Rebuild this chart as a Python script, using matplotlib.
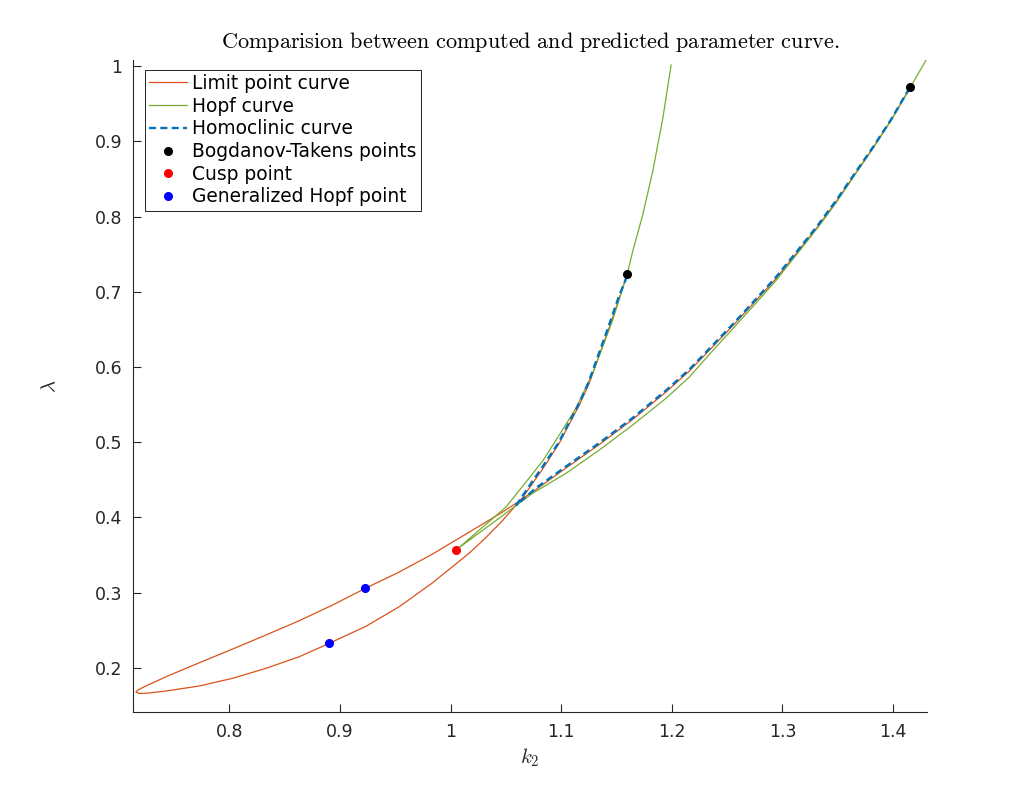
import numpy as np
import matplotlib
matplotlib.use("Agg")
import matplotlib.pyplot as plt

plt.rcParams['mathtext.fontset'] = 'cm'
plt.rcParams['font.family'] = ['DejaVu Sans']

# limit point curve: BT1 -> steep branch -> loop -> shallow branch -> BT2
lp_k2 = [1.1596, 1.1526, 1.1436, 1.1345, 1.1255, 1.1165, 1.1074, 1.0984, 1.0833,
         1.0652, 1.0471, 1.0306, 1.0170, 0.9835, 0.9537, 0.9236, 0.8904, 0.8633,
         0.8332, 0.8030, 0.7729, 0.7428, 0.7277, 0.7186, 0.7155, 0.7177, 0.7231,
         0.7428, 0.7729, 0.8030, 0.8332, 0.8633, 0.8934, 0.9230, 0.9537, 0.9838,
         1.0170, 1.0471, 1.0622, 1.0773, 1.1044, 1.1345, 1.1646, 1.1948, 1.2159,
         1.2355, 1.2566, 1.2762, 1.2943, 1.3138, 1.3319, 1.3486, 1.3651, 1.3817,
         1.3983, 1.4157]
lp_lam = [0.7232, 0.6917, 0.6532, 0.6159, 0.5787, 0.5495, 0.5243, 0.4990, 0.4645,
          0.4266, 0.3960, 0.3714, 0.3528, 0.3130, 0.2815, 0.2555, 0.2328, 0.2150,
          0.1996, 0.1863, 0.1761, 0.1694, 0.1668, 0.1661, 0.1681, 0.1710, 0.1750,
          0.1884, 0.2070, 0.2252, 0.2439, 0.2629, 0.2837, 0.3059, 0.3276, 0.3515,
          0.3807, 0.4073, 0.4219, 0.4372, 0.4658, 0.4970, 0.5302, 0.5668, 0.5947,
          0.6246, 0.6571, 0.6884, 0.7176, 0.7532, 0.7864, 0.8197, 0.8551, 0.8906,
          0.9282, 0.9717]

# hopf curve: top -> BT1 -> cusp -> BT2 -> top right
hopf_k2 = [1.1994, 1.1918, 1.1827, 1.1737, 1.1646, 1.1596, 1.1526, 1.1466, 1.1375,
           1.1285, 1.1135, 1.0954, 1.0833, 1.0502, 1.0061, 1.0441, 1.0742, 1.1044,
           1.1345, 1.1646, 1.1948, 1.2159, 1.2355, 1.2566, 1.2762, 1.2943, 1.3138,
           1.3319, 1.3486, 1.3651, 1.3817, 1.3983, 1.4157, 1.4299]
hopf_lam = [1.0013, 0.9296, 0.8595, 0.8020, 0.7532, 0.7232, 0.6904, 0.6625, 0.6266,
            0.5916, 0.5455, 0.5030, 0.4751, 0.4140, 0.3581, 0.3993, 0.4322, 0.4587,
            0.4897, 0.5229, 0.5584, 0.5867, 0.6193, 0.6532, 0.6850, 0.7150, 0.7512,
            0.7851, 0.8183, 0.8545, 0.8900, 0.9276, 0.9717, 1.0080]

# homoclinic curve: BT1 -> near crossing -> BT2
hom_k2 = [1.1596, 1.1517, 1.1427, 1.1336, 1.1246, 1.1156, 1.1065, 1.0975, 1.0830,
          1.0712, 1.0595, 1.0773, 1.1044, 1.1345, 1.1646, 1.1948, 1.2159, 1.2355,
          1.2566, 1.2762, 1.2943, 1.3138, 1.3319, 1.3486, 1.3651, 1.3817, 1.3983,
          1.4139]
hom_lam = [0.7209, 0.6917, 0.6532, 0.6159, 0.5790, 0.5500, 0.5243, 0.4990, 0.4671,
           0.4419, 0.4166, 0.4392, 0.4678, 0.4990, 0.5322, 0.5688, 0.5967, 0.6266,
           0.6591, 0.6904, 0.7196, 0.7548, 0.7880, 0.8213, 0.8565, 0.8917, 0.9289,
           0.9681]

bt_k2 = [1.1596, 1.4157]
bt_lam = [0.7232, 0.9717]
cusp_k2 = [1.0052]
cusp_lam = [0.3568]
gh_k2 = [0.9230, 0.8904]
gh_lam = [0.3059, 0.2328]

c_lp = '#D95319'
c_hopf = '#77AC30'
c_hom = '#0072BD'
gray = '#262626'

fig = plt.figure(figsize=(10.24, 8), dpi=100)
ax = fig.add_axes([0.13, 0.11, 0.775, 0.815])

ax.plot(lp_k2, lp_lam, '-', color=c_lp, lw=0.9, label='Limit point curve')
ax.plot(hopf_k2, hopf_lam, '-', color=c_hopf, lw=0.9, label='Hopf curve')
ax.plot(hom_k2, hom_lam, '--', color=c_hom, lw=1.7, dashes=(3.0, 1.8),
        label='Homoclinic curve')
ax.plot(bt_k2, bt_lam, 'o', color='k', ms=5.5, label='Bogdanov-Takens points')
ax.plot(cusp_k2, cusp_lam, 'o', color='r', ms=5.5, label='Cusp point')
ax.plot(gh_k2, gh_lam, 'o', color='b', ms=5.5, label='Generalized Hopf point')

ax.set_xlim(0.713, 1.4305)
ax.set_ylim(0.1415, 1.008)
ax.set_xticks([0.8, 0.9, 1.0, 1.1, 1.2, 1.3, 1.4])
ax.set_xticklabels(['0.8', '0.9', '1', '1.1', '1.2', '1.3', '1.4'])
ax.set_yticks([0.2, 0.3, 0.4, 0.5, 0.6, 0.7, 0.8, 0.9, 1.0])
ax.set_yticklabels(['0.2', '0.3', '0.4', '0.5', '0.6', '0.7', '0.8', '0.9', '1'])

for s in ['top', 'right']:
    ax.spines[s].set_visible(False)
for s in ['left', 'bottom']:
    ax.spines[s].set_color(gray)
    ax.spines[s].set_linewidth(0.8)
ax.tick_params(direction='in', length=6, width=0.8, colors=gray,
               labelsize=12.5, pad=8)

ax.set_xlabel(r'$k_2$', fontsize=15, color=gray)
ax.set_ylabel(r'$\lambda$', fontsize=15, color=gray, labelpad=25)
ax.set_title(r'$\mathrm{Comparision\ between\ computed\ and\ predicted\ parameter\ curve.}$',
             fontsize=16, pad=9)

leg = ax.legend(loc='upper left', bbox_to_anchor=(0.015, 0.985), fontsize=13.4,
                frameon=True, fancybox=False, framealpha=1, edgecolor='k',
                borderaxespad=0, borderpad=0.22, labelspacing=0.2,
                handlelength=2.05, handletextpad=0.27)
leg.get_frame().set_linewidth(0.6)

fig.savefig('out.png', dpi=100)
